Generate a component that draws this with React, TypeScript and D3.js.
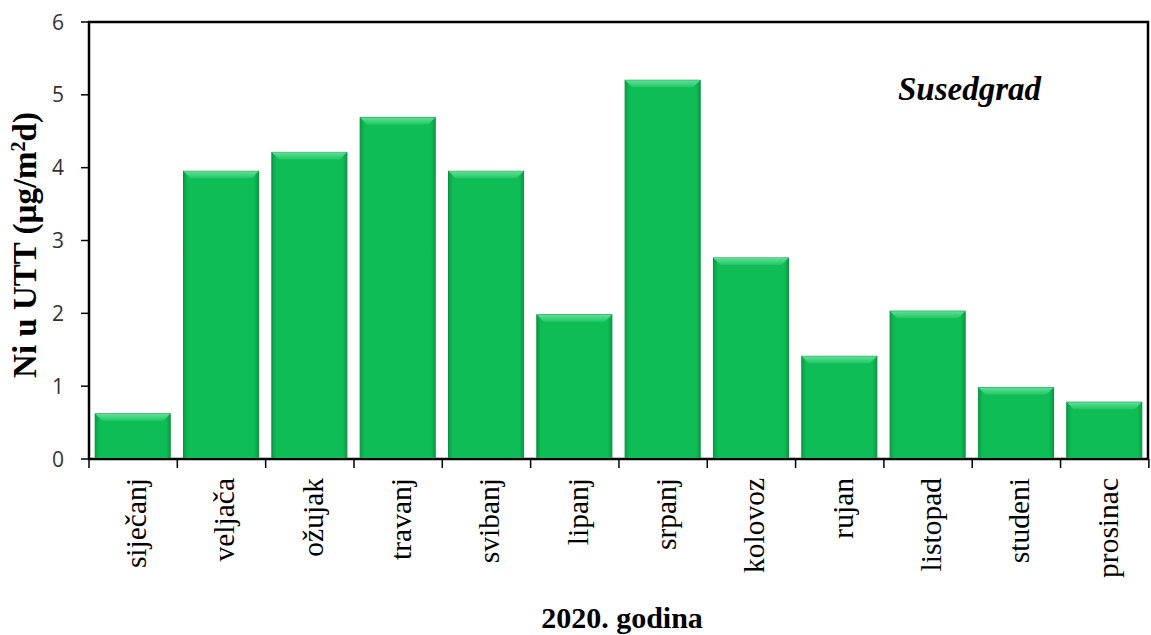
import React from "react";
import * as d3 from "d3";

const months = ["siječanj","veljača","ožujak","travanj","svibanj","lipanj","srpanj","kolovoz","rujan","listopad","studeni","prosinac"];
const values = [0.62, 3.95, 4.21, 4.69, 3.95, 1.98, 5.2, 2.76, 1.41, 2.03, 0.98, 0.78];
const yTicks = [0, 1, 2, 3, 4, 5, 6];

const W = 1151, H = 635;
const m = { left: 89, right: 1148, top: 22, bottom: 459 };

export default function App() {
  const x = d3.scaleBand<string>().domain(months).range([m.left, m.right]).paddingInner(0.15).paddingOuter(0.07);
  const y = d3.scaleLinear().domain([0, 6]).range([m.bottom, m.top]);
  const step = x.step();
  const bevel = 7;
  return (
    <svg width={W} height={H} style={{ position: "absolute", left: 0, top: 0 }}>
      <defs>
        <linearGradient id="gh" x1="0" x2="1" y1="0" y2="0">
          <stop offset="0" stopColor="#0a9e45" />
          <stop offset="0.06" stopColor="#0fbd56" />
          <stop offset="0.94" stopColor="#0fbd56" />
          <stop offset="1" stopColor="#0a9e45" />
        </linearGradient>
        <linearGradient id="top" x1="0" x2="0" y1="0" y2="1">
          <stop offset="0" stopColor="#5fe096" />
          <stop offset="1" stopColor="#22c866" />
        </linearGradient>
      </defs>
      <rect x={0} y={0} width={W} height={H} fill="#fff" />
      <rect x={m.left} y={m.top} width={m.right - m.left} height={m.bottom - m.top} fill="none" stroke="#000" strokeWidth={2.5} />
      {months.map((mo, i) => {
        const bx = x(mo)!;
        const bw = x.bandwidth();
        const by = y(values[i]);
        const bh = y(0) - by;
        return (
          <g key={mo}>
            <rect x={bx} y={by} width={bw} height={bh} fill="url(#gh)" stroke="#0b8f40" strokeWidth={1} />
            <polygon
              points={`${bx},${by} ${bx + bw},${by} ${bx + bw - bevel},${by + bevel} ${bx + bevel},${by + bevel}`}
              fill="url(#top)"
            />
          </g>
        );
      })}
      <line x1={m.left} x2={m.right} y1={m.bottom} y2={m.bottom} stroke="#000" strokeWidth={2} />
      {d3.range(months.length + 1).map((i) => (
        <line key={i} x1={m.left + i * step} x2={m.left + i * step} y1={m.bottom} y2={m.bottom + 9} stroke="#000" strokeWidth={1.5} />
      ))}
      {yTicks.map((t) => (
        <g key={t}>
          <line x1={m.left - 8} x2={m.left} y1={y(t)} y2={y(t)} stroke="#000" strokeWidth={1.5} />
          <text x={64} y={y(t)} dy="0.36em" textAnchor="end" fontFamily="'Open Sans', sans-serif" fontSize={21} fill="#333">{t}</text>
        </g>
      ))}
      {months.map((mo) => {
        const cx = x(mo)! + x.bandwidth() / 2;
        return (
          <text key={mo} transform={`translate(${cx},${m.bottom + 19}) rotate(-90)`} textAnchor="end" dy="0.45em"
            fontFamily="'Liberation Serif', serif" fontSize={29.5} fill="#000">{mo}</text>
        );
      })}
      <text transform={`translate(36,${245}) rotate(-90)`} textAnchor="middle"
        fontFamily="'Liberation Serif', serif" fontWeight="bold" fontSize={33} fill="#000">
        Ni u UTT (µg/m<tspan dy="-11" fontSize={20}>2</tspan><tspan dy="11">d)</tspan>
      </text>
      <text x={898} y={100} textAnchor="start" fontFamily="'Liberation Serif', serif" fontWeight="bold" fontStyle="italic" fontSize={33} fill="#000">Susedgrad</text>
      <text x={622} y={628} textAnchor="middle" fontFamily="'Liberation Serif', serif" fontWeight="bold" fontSize={30} fill="#000">2020. godina</text>
    </svg>
  );
}
